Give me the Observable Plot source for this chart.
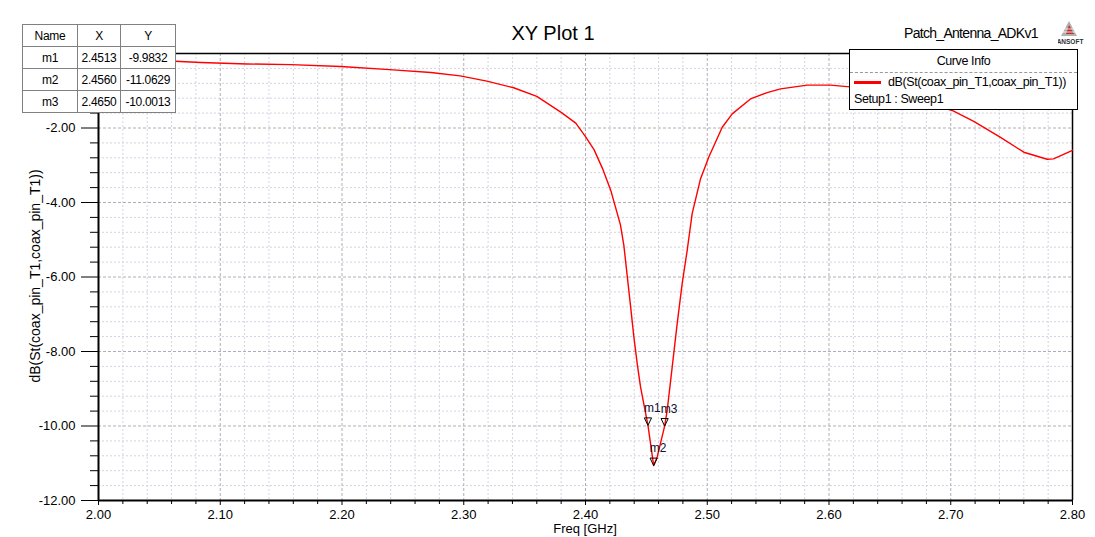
<!DOCTYPE html>
<html>
<head>
<meta charset="utf-8">
<script src="https://cdn.jsdelivr.net/npm/d3@7"></script>
<script src="https://cdn.jsdelivr.net/npm/@observablehq/plot@0.6"></script>
<style>
  html, body { margin: 0; padding: 0; background: #fff; overflow: hidden; }
  #wrap { position: relative; width: 1095px; height: 537px; font-family: "Liberation Sans", Arial, sans-serif; color: #000; overflow: hidden; }
  #chart { position: absolute; left: 0; top: 0; }
  .abs { position: absolute; white-space: nowrap; }
  #mtable { position: absolute; left: 22px; top: 24px; border-collapse: collapse; font-size: 12px; letter-spacing: -0.3px; background: #fff; }
  #mtable td { border: 1px solid #808080; text-align: center; padding: 0; height: 21px; }
  #mtable { border: 1.5px solid #000; }
  #legend { position: absolute; left: 849px; top: 49px; width: 227px; height: 59px; border: 1.5px solid #000; background: #fff; font-size: 12.5px; letter-spacing: -0.4px; }
</style>
</head>
<body>
<div id="wrap">
  <div id="chart"></div>
  <div class="abs" style="left:0;width:1106px;top:22px;text-align:center;font-size:20px;">XY Plot 1</div>
  <div class="abs" style="left:904px;top:25px;font-size:14px;letter-spacing:-0.7px;">Patch_Antenna_ADKv1</div>
  <svg class="abs" style="left:1058px;top:20px;" width="30" height="26">
    <polygon points="11,1 19,16 3,16" fill="#b0b0b0"/>
    <polygon points="11,5 16,14 8,14" fill="#c03030"/>
    <line x1="5" y1="12" x2="17" y2="12" stroke="#fff" stroke-width="0.8"/>
    <line x1="7" y1="9" x2="15" y2="9" stroke="#fff" stroke-width="0.8"/>
    <text x="12" y="24" font-size="6.5" font-weight="bold" text-anchor="middle" fill="#303030" font-family="Liberation Sans">ANSOFT</text>
  </svg>
  <table id="mtable">
    <tr><td style="width:54px;height:21px;">Name</td><td style="width:42px;">X</td><td style="width:54px;">Y</td></tr>
    <tr><td>m1</td><td>2.4513</td><td>-9.9832</td></tr>
    <tr><td>m2</td><td>2.4560</td><td>-11.0629</td></tr>
    <tr><td>m3</td><td>2.4650</td><td>-10.0013</td></tr>
  </table>
  <div id="legend">
    <div style="position:absolute;left:0;right:0;top:4px;text-align:center;">Curve Info</div>
    <div style="position:absolute;left:0;right:0;top:22px;border-top:1px dashed #999;"></div>
    <div style="position:absolute;left:4px;top:31px;width:27px;height:3px;background:#ff0000;"></div>
    <div style="position:absolute;left:38px;top:25px;">dB(St(coax_pin_T1,coax_pin_T1))</div>
    <div style="position:absolute;left:4px;top:42px;">Setup1 : Sweep1</div>
  </div>
  <div class="abs" style="left:35px;top:276px;font-size:14px;transform:translate(-50%,-50%) rotate(-90deg);transform-origin:center;">
    <span style="display:inline-block;">dB(St(coax_pin_T1,coax_pin_T1))</span>
  </div>
  <div class="abs" style="left:585px;top:522px;font-size:13px;line-height:14px;transform:translateX(-50%);">Freq [GHz]</div>
</div>
<script>
// ---- data ----
const freq = [2.000, 2.030, 2.063, 2.084, 2.122, 2.158, 2.199, 2.242, 2.273, 2.297,
  2.319, 2.341, 2.360, 2.380, 2.392, 2.400, 2.407, 2.414, 2.421, 2.4287,
  2.4315, 2.4342, 2.4370, 2.4397, 2.4425, 2.4452, 2.4513, 2.4560, 2.4589, 2.4650,
  2.4671, 2.4712, 2.4753, 2.4794, 2.4835, 2.4876, 2.4945, 2.5013, 2.5123, 2.5205,
  2.5355, 2.5492, 2.5602, 2.5821, 2.6012, 2.6149, 2.640, 2.670, 2.7012, 2.7189,
  2.7409, 2.7600, 2.7792, 2.7844, 2.800];
const s11 = [-0.17, -0.18, -0.21, -0.24, -0.28, -0.30, -0.35, -0.44, -0.51, -0.60,
  -0.74, -0.92, -1.15, -1.58, -1.87, -2.23, -2.58, -3.09, -3.70, -4.60,
  -5.15, -5.95, -6.78, -7.60, -8.33, -8.95, -9.9832, -11.0629, -10.83, -10.0013,
  -9.58, -8.42, -7.25, -6.18, -5.29, -4.30, -3.36, -2.78, -1.98, -1.62,
  -1.22, -1.05, -0.95, -0.85, -0.85, -0.89, -0.98, -1.20, -1.53, -1.82,
  -2.25, -2.65, -2.84, -2.83, -2.60];
const markerNames = ["m1", "m2", "m3"];
const markerX = [2.4513, 2.4560, 2.4650];
const markerY = [-9.9832, -11.0629, -10.0013];
const xTicks = [2.00, 2.10, 2.20, 2.30, 2.40, 2.50, 2.60, 2.70, 2.80];
const yTicks = [-12, -10, -8, -6, -4, -2];

const curve = freq.map((f, i) => ({f, v: s11[i]}));
const markers = markerNames.map((n, i) => ({n, f: markerX[i], v: markerY[i]}));
const xMinor = d3.range(0, 41).map(i => 2 + i * 0.02).filter(v => !xTicks.some(t => Math.abs(t - v) < 1e-6));
const yMinor = d3.range(0, 31).map(i => -12 + i * 0.4).filter(v => !yTicks.some(t => Math.abs(t - v) < 1e-6) && v < -0.01);

const downTri = {
  draw(ctx) {
    ctx.moveTo(-3.6, -7.5);
    ctx.lineTo(3.6, -7.5);
    ctx.lineTo(0, 0);
    ctx.closePath();
  }
};

const chart = Plot.plot({
  width: 1095,
  height: 537,
  marginLeft: 98,
  marginRight: 23,
  marginTop: 53,
  marginBottom: 37,
  style: {fontFamily: "Liberation Sans, Arial, sans-serif", fontSize: "13px", color: "#000", background: "#fff"},
  x: {domain: [2.0, 2.8]},
  y: {domain: [-12, 0]},
  marks: [
    Plot.ruleX(xMinor, {stroke: "#d6d2e2", strokeDasharray: "2,2", strokeWidth: 1}),
    Plot.ruleY(yMinor, {stroke: "#d6d2e2", strokeDasharray: "2,2", strokeWidth: 1}),
    Plot.ruleX(xTicks.slice(1, -1), {stroke: "#b0aeb4", strokeDasharray: "3,2", strokeWidth: 1}),
    Plot.ruleY(yTicks.slice(1), {stroke: "#b0aeb4", strokeDasharray: "3,2", strokeWidth: 1}),
    Plot.ruleY([0], {stroke: "#000", strokeWidth: 1.5}),
    Plot.ruleX([2.8], {stroke: "#000", strokeWidth: 1.5}),
    Plot.line(curve, {x: "f", y: "v", stroke: "#ff0000", strokeWidth: 1.4}),
    Plot.dot(markers, {x: "f", y: "v", symbol: downTri, r: 4, stroke: "#000", fill: "none", strokeWidth: 1}),
    Plot.text(markers, {x: "f", y: "v", text: "n", textAnchor: "start", dx: -4, dy: -17, fontSize: 12, fill: "#101030"}),
    Plot.axisX(xTicks, {tickSize: 5, tickPadding: 4, tickFormat: d => d.toFixed(2), label: null, fontSize: 13, stroke: "#000"}),
    Plot.axisX(xMinor, {tickSize: 4, tickFormat: () => "", label: null, stroke: "#000"}),
    Plot.axisY(yTicks, {tickSize: 17, tickPadding: 6, tickFormat: d => d.toFixed(2), label: null, fontSize: 13, stroke: "#000"}),
    Plot.axisY(yMinor, {tickSize: 8, tickFormat: () => "", label: null, stroke: "#000"}),
    Plot.ruleX([2.0], {stroke: "#000", strokeWidth: 2}),
    Plot.ruleY([-12], {stroke: "#000", strokeWidth: 2})
  ]
});
document.getElementById("chart").appendChild(chart);
</script>
</body>
</html>
